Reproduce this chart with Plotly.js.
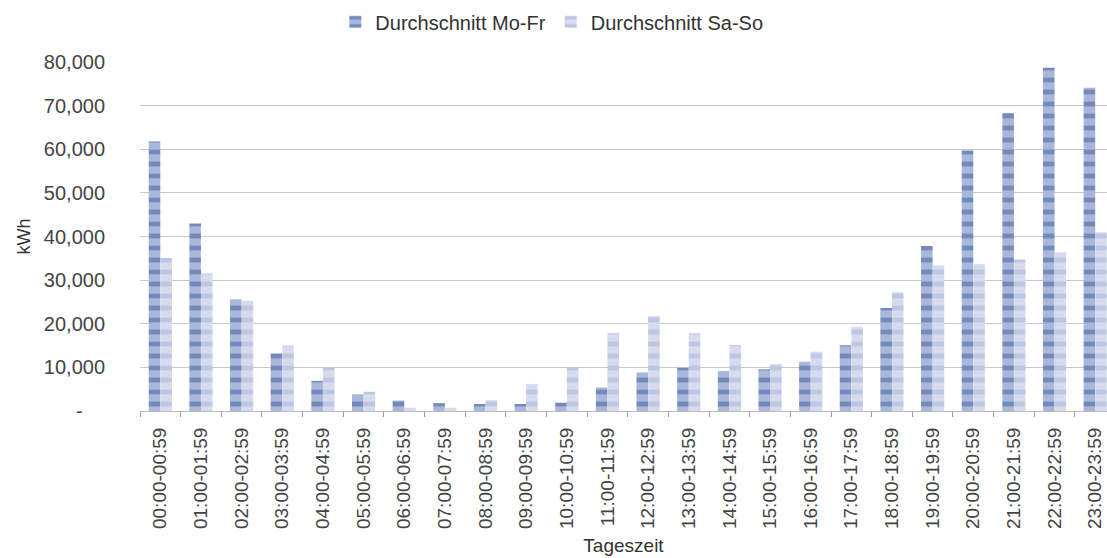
<!DOCTYPE html>
<html>
<head>
<meta charset="utf-8">
<script src="https://cdn.plot.ly/plotly-3.0.1.min.js"></script>
<style>html,body{margin:0;padding:0;background:#fff;}#chart{width:1107px;height:558px;}</style>
</head>
<body>
<div id="chart"></div>
<script>
var categories = ["00:00-00:59","01:00-01:59","02:00-02:59","03:00-03:59","04:00-04:59","05:00-05:59",
  "06:00-06:59","07:00-07:59","08:00-08:59","09:00-09:59","10:00-10:59","11:00-11:59",
  "12:00-12:59","13:00-13:59","14:00-14:59","15:00-15:59","16:00-16:59","17:00-17:59",
  "18:00-18:59","19:00-19:59","20:00-20:59","21:00-21:59","22:00-22:59","23:00-23:59"];
var moFr = [61800,43000,25600,13200,6900,3800,2400,1800,1600,1600,1900,5400,
  8850,9900,9150,9550,11300,15100,23600,37800,59700,68300,78700,74100];
var saSo = [35100,31500,25300,15000,9900,4400,750,750,2500,6200,10100,17800,
  21800,17800,15100,10750,13600,19300,27200,33400,33700,34700,36400,41000];
var seriesNames = ["Durchschnitt Mo-Fr","Durchschnitt Sa-So"];
var yTickVals = [0,10000,20000,30000,40000,50000,60000,70000,80000];
var yTickText = ["-\u00a0\u00a0\u00a0\u00a0","10,000","20,000","30,000","40,000","50,000","60,000","70,000","80,000"];

var font = "Liberation Sans, Arial, sans-serif";
var traces = [
  {type:"bar", name:seriesNames[0], x:categories, y:moFr,
   marker:{color:"#a9b8da", line:{width:0},
     pattern:{shape:"-", fgcolor:"#3f5c9c", fillmode:"overlay", size:12, solidity:0.4}}},
  {type:"bar", name:seriesNames[1], x:categories, y:saSo,
   marker:{color:"#d6dcee", line:{width:0},
     pattern:{shape:"-", fgcolor:"#a4b2d8", fillmode:"overlay", size:12, solidity:0.4}}}
];
var layout = {
  width:1107, height:558,
  margin:{l:140, r:0, t:62, b:147},
  paper_bgcolor:"#fff", plot_bgcolor:"#fff",
  barmode:"group", bargap:0.43, bargroupgap:0,
  showlegend:true,
  legend:{orientation:"h", x:0.202, xanchor:"left", y:1.115, yanchor:"middle",
    font:{family:font, size:20, color:"#333"}, itemwidth:30},
  font:{family:font, color:"#444"},
  xaxis:{type:"category", range:[-0.5,23.29], tickangle:-90, tickson:"boundaries",
    ticks:"outside", ticklen:5, tickcolor:"#999", showline:true, linecolor:"#bbb",
    showgrid:false, tickfont:{family:font, size:19, color:"#444"}, ticklabelstandoff:8,
    title:{text:"Tageszeit", font:{family:font, size:19, color:"#333"}, standoff:10}},
  yaxis:{range:[0,80000], tickvals:yTickVals, ticktext:yTickText, showgrid:true,
    gridcolor:"#c8c8c8", gridwidth:1, zeroline:false, showline:false,
    ticks:"", tickfont:{family:font, size:20, color:"#444"}, ticklabelstandoff:34,
    title:{text:"kWh", font:{family:font, size:18, color:"#333"}, standoff:8}}
};
Plotly.newPlot("chart", traces, layout, {displayModeBar:false, staticPlot:true});
</script>
</body>
</html>
